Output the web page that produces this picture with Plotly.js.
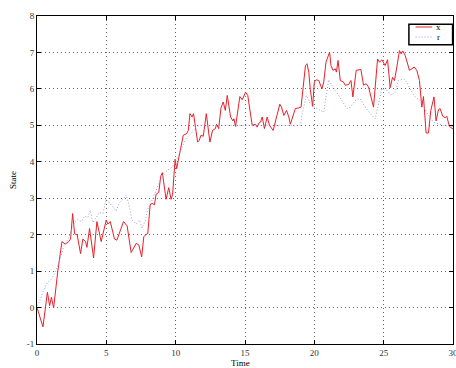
<!DOCTYPE html>
<html>
<head>
<meta charset="utf-8">
<script src="https://cdn.plot.ly/plotly-3.0.1.min.js"></script>
<style>html,body{margin:0;padding:0;background:#fff;}#chart{width:456px;height:368px;}</style>
</head>
<body>
<div id="chart"></div>
<script>
// State x (measured) over time
const timeX = [0,0.43,0.75,0.91,1.04,1.2,1.5,1.8,2.04,2.28,2.42,2.57,2.71,2.9,3.14,3.31,3.5,3.6,3.79,4.08,4.32,4.63,4.99,5.11,5.28,5.59,5.76,6.0,6.24,6.5,6.79,7.15,7.34,7.55,7.7,7.87,7.99,8.16,8.3,8.47,8.59,8.78,8.92,9.04,9.31,9.5,9.67,9.78,9.96,10.07,10.39,10.55,10.79,10.91,11.03,11.18,11.29,11.58,11.7,11.83,11.99,12.21,12.47,12.66,12.86,12.95,13.1,13.27,13.43,13.58,13.72,13.96,14.13,14.2,14.32,14.63,14.8,15.04,15.2,15.52,15.76,15.88,16.0,16.12,16.24,16.4,16.6,16.76,17.03,17.32,17.51,17.63,17.8,17.99,18.16,18.27,18.47,18.63,18.88,19.04,19.19,19.36,19.47,19.6,19.71,19.88,20.0,20.14,20.32,20.55,20.68,20.84,21.1,21.2,21.34,21.51,21.59,21.71,21.87,22.1,22.23,22.47,22.64,22.78,23.02,23.19,23.36,23.55,23.74,23.91,24.27,24.56,24.7,24.87,25.11,25.28,25.47,25.64,25.78,25.95,26.14,26.26,26.38,26.55,26.86,27.03,27.2,27.39,27.58,27.75,27.87,28.06,28.23,28.4,28.63,28.78,28.95,29.07,29.26,29.43,29.55,29.74,29.9,30];
const stateX = [0,-0.53,0.42,0.05,0.28,-0.01,1.0,1.81,1.74,1.81,1.88,2.58,2.03,1.99,1.48,1.88,1.81,1.65,2.17,1.36,2.36,1.81,2.40,2.29,2.36,1.88,1.85,2.1,2.36,2.24,1.51,1.76,1.72,1.39,1.94,2.01,2.03,2.82,2.86,2.82,3.11,3.16,3.6,3.70,2.97,3.29,2.97,3.11,4.07,3.81,4.5,4.73,4.77,4.86,5.32,5.23,5.32,4.54,4.59,4.73,4.7,5.32,4.54,4.86,4.91,5.03,4.91,5.48,5.64,5.41,5.82,5.23,5.12,5.18,4.97,5.79,5.7,5.91,5.82,5.0,5.03,4.95,5.06,5.09,5.23,4.91,5.23,5.0,4.86,5.27,5.58,5.5,5.27,5.41,5.23,5.03,5.27,5.46,5.48,5.5,6.03,6.64,6.69,6.46,5.98,5.52,6.19,6.25,6.23,6.0,6.19,6.73,7.01,6.64,6.51,6.55,6.46,6.78,6.23,6.19,6.1,6.12,6.23,5.78,6.51,6.53,6.53,6.1,6.14,6.05,5.5,6.82,6.73,6.8,6.64,6.8,6.03,6.32,6.23,6.6,7.05,6.96,7.04,6.92,6.51,6.55,6.6,6.51,6.23,5.5,5.79,4.79,4.79,5.41,5.78,5.12,5.43,5.46,5.25,5.21,5.25,4.97,4.91,4.9];

// Reference r over time
const timeR = [0,0.15,0.43,0.75,1.04,1.22,1.51,1.75,1.94,2.23,2.47,2.71,2.95,3.19,3.43,3.67,3.84,4.03,4.27,4.51,4.75,4.99,5.23,5.52,5.71,5.95,6.19,6.43,6.62,6.86,7.15,7.39,7.58,7.8,7.99,8.23,8.78,9.06,9.42,9.78,10.14,10.46,10.75,11.1,11.46,11.7,19.0,19.1,19.43,19.71,20.0,20.68,21.03,21.27,21.63,21.99,22.35,22.59,22.95,23.31,23.67,24.03,24.39,24.87,25.23,25.59,25.83,26.07,26.43,26.67,26.91,27.27,27.63,27.99,28.23,28.59,28.95,29.31,29.9,30];
const stateR = [0.05,0.14,0.42,0.69,0.78,0.9,1.15,1.42,1.69,1.88,2.1,2.33,2.42,2.36,2.51,2.47,2.67,2.33,2.47,2.61,2.58,2.97,2.88,2.75,2.65,2.88,2.97,3.09,2.84,2.4,2.29,2.4,2.18,2.38,2.7,2.88,3.42,3.66,3.77,3.86,4.13,4.41,4.64,4.77,4.95,5.0,5.0,5.27,5.82,5.59,5.5,5.36,6.25,6.1,5.87,5.68,5.46,5.5,5.68,5.73,5.5,5.32,5.18,6.0,5.96,5.82,5.91,6.23,6.28,6.19,6.0,5.78,5.68,5.41,5.27,5.09,5.05,5.0,4.97,4.97];

const xTickVals = [0,5,10,15,20,25,30];
const xTickText = ["0","5","10","15","20","25","30"];
const yTickVals = [-1,0,1,2,3,4,5,6,7,8];
const yTickText = ["-1","0","1","2","3","4","5","6","7","8"];
const seriesNames = ["x", "r"];
const xAxisTitle = "Time";
const yAxisTitle = "State";

const serif = "Liberation Serif, Times New Roman, serif";
const colX = "#e8202a";
const colR = "#9a9ae0";
const dashR = "1px,2px";

const traces = [
  {x: timeX, y: stateX, name: seriesNames[0], mode: "lines", type: "scatter",
   line: {color: colX, width: 1}},
  {x: timeR, y: stateR, name: seriesNames[1], mode: "lines", type: "scatter",
   line: {color: colR, width: 1, dash: dashR}}
];

const axisCommon = {
  showline: true, linecolor: "#000", linewidth: 1, mirror: "ticks",
  ticks: "inside", ticklen: 4, tickcolor: "#000", tickwidth: 1,
  showgrid: true, gridcolor: "#666", griddash: "1px,3px", gridwidth: 1,
  zeroline: false, tickfont: {family: serif, size: 9, color: "#333"},
  ticklabeloverflow: "allow"
};

// hand-drawn legend box (paper coordinates)
const legShapes = [
  {type: "rect", xref: "paper", yref: "paper", x0: 0.894, x1: 0.999, y0: 0.9125, y1: 0.9747,
   line: {color: "#000", width: 1.5}, fillcolor: "#fff", layer: "above"},
  {type: "line", xref: "paper", yref: "paper", x0: 0.910, x1: 0.950, y0: 0.9665, y1: 0.9665,
   line: {color: colX, width: 1}, layer: "above"},
  {type: "line", xref: "paper", yref: "paper", x0: 0.910, x1: 0.950, y0: 0.936, y1: 0.936,
   line: {color: colR, width: 1, dash: dashR}, layer: "above"}
];
const notes = [
  {xref: "paper", yref: "paper", x: 0.9663, y: 0.9665, text: seriesNames[0], showarrow: false,
   xanchor: "center", yanchor: "middle", font: {family: serif, size: 9, color: "#000"}},
  {xref: "paper", yref: "paper", x: 0.9663, y: 0.936, text: seriesNames[1], showarrow: false,
   xanchor: "center", yanchor: "middle", font: {family: serif, size: 9, color: "#000"}},
  {xref: "paper", yref: "paper", x: 0.49, y: -0.057, text: xAxisTitle, showarrow: false,
   xanchor: "center", yanchor: "middle", font: {family: serif, size: 9, color: "#000"}}
];

const layout = {
  width: 456, height: 368,
  margin: {l: 37, r: 3, t: 16, b: 24},
  paper_bgcolor: "#fff", plot_bgcolor: "#fff",
  showlegend: false,
  shapes: legShapes,
  annotations: notes,
  xaxis: Object.assign({}, axisCommon, {
    range: [0, 30], tickvals: xTickVals, ticktext: xTickText
  }),
  yaxis: Object.assign({}, axisCommon, {
    range: [-1, 8], tickvals: yTickVals, ticktext: yTickText,
    title: {text: yAxisTitle, font: {family: serif, size: 9, color: "#000"}, standoff: 8}
  })
};

Plotly.newPlot("chart", traces, layout, {displayModeBar: false, staticPlot: true});
</script>
</body>
</html>
